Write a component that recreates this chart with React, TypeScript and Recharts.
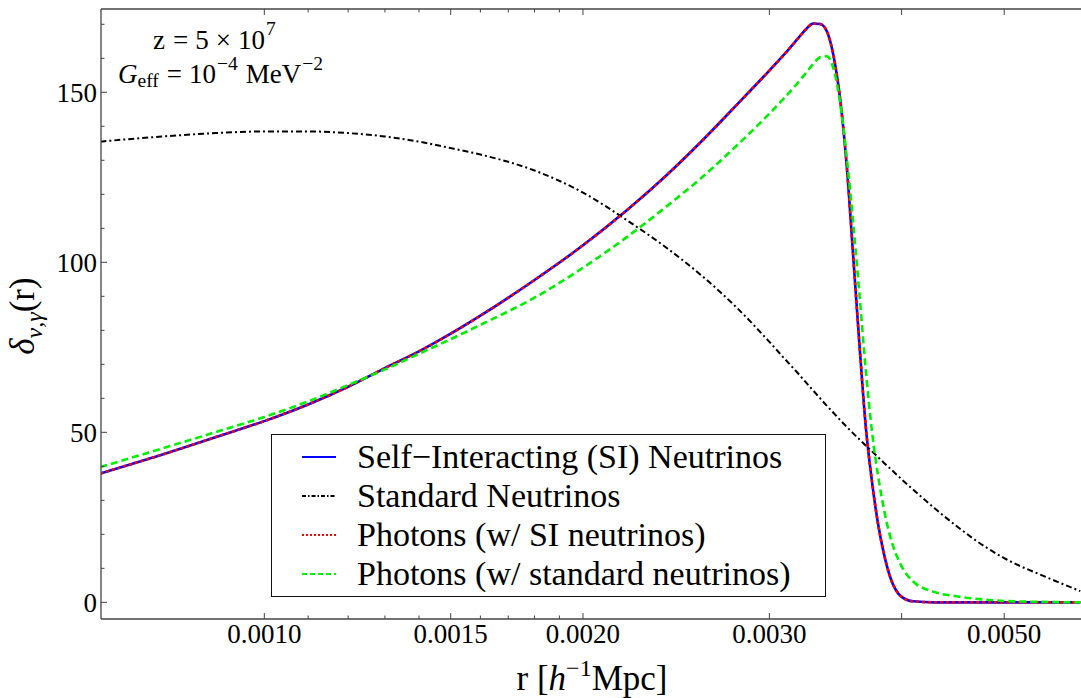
import React from "react";
import { LineChart, Line, XAxis, YAxis, Legend } from "recharts";

const FONT = "Liberation Serif, Tinos, Times New Roman, DejaVu Serif, Noto Serif, serif";

// r [h^-1 Mpc] sample points (log x axis)
const rValues = [
  0.0007, 0.0008, 0.0009, 0.001, 0.0011, 0.0012, 0.0013, 0.0014, 0.0015, 0.0016, 0.0018, 0.002,
  0.0022, 0.0024, 0.0026, 0.0028, 0.003, 0.0031, 0.0032, 0.00325, 0.0033, 0.00335, 0.0034, 0.00345,
  0.0035, 0.00355, 0.0036, 0.00365, 0.0037, 0.00375, 0.0038, 0.00385, 0.0039, 0.004, 0.0041, 0.0043,
  0.0045, 0.0048, 0.005, 0.0055, 0.0059,
];

const siNeutrinos = [
  37.9, 43.4, 48.6, 53.3, 58.2, 63.4, 68.9, 73.8, 79.0, 84.3, 94.8, 105.0,
  115.3, 125.7, 136.2, 146.6, 156.4, 161.2, 166.2, 168.6, 170.2, 170.1, 167.9, 160.6,
  147.8, 128.3, 101.8, 75.5, 51.6, 35.6, 23.1, 14.1, 7.6, 1.6, 0.3, 0.0,
  0.0, 0.0, 0.0, 0.0, 0.0,
];

const standardNeutrinos = [
  135.5, 137.0, 138.0, 138.5, 138.5, 138.0, 137.0, 135.5, 133.6, 131.7, 127.0, 120.5,
  112.4, 104.2, 95.6, 86.4, 76.6, 71.7, 67.0, 64.6, 62.3, 60.0, 57.8, 55.7,
  53.6, 51.6, 49.7, 47.9, 46.1, 44.4, 42.7, 41.0, 39.4, 36.2, 33.2, 27.6,
  22.6, 16.3, 13.0, 7.2, 3.3,
];

const photonsSI = [
  37.9, 43.4, 48.6, 53.3, 58.2, 63.4, 68.9, 73.8, 79.0, 84.3, 94.8, 105.0,
  115.3, 125.7, 136.2, 146.6, 156.4, 161.2, 166.2, 168.6, 170.2, 170.1, 167.9, 160.6,
  147.8, 128.3, 101.8, 75.5, 51.6, 35.6, 23.1, 14.1, 7.6, 1.6, 0.3, 0.0,
  0.0, 0.0, 0.0, 0.0, 0.0,
];

const photonsStandard = [
  39.8, 45.2, 50.1, 54.5, 59.1, 63.9, 68.5, 73.1, 77.4, 81.6, 89.6, 98.4,
  107.4, 116.5, 125.4, 134.6, 143.7, 148.4, 153.2, 155.8, 158.3, 160.3, 160.6, 156.8,
  146.8, 130.8, 111.6, 90.3, 68.3, 50.3, 37.3, 27.2, 19.6, 10.6, 6.2, 3.0,
  1.8, 0.8, 0.4, 0.1, 0.0,
];

const xMajorTicks = [0.001, 0.0015, 0.002, 0.003, 0.005];
const xMinorTicks = [0.0011, 0.0012, 0.0013, 0.0014, 0.0016, 0.0017, 0.0018, 0.0019, 0.004];
const yMajorTicks = [0, 50, 100, 150];
const yMinorTicks = [10, 20, 30, 40, 60, 70, 80, 90, 110, 120, 130, 140, 160, 170];

const xDomain = [0.000701, 0.005909];
const yDomain = [-4.9, 174.5];

const legendLabels = [
  "Self\u2212Interacting (SI) Neutrinos",
  "Standard Neutrinos",
  "Photons (w/ SI neutrinos)",
  "Photons (w/ standard neutrinos)",
];

const SERIES = [
  { key: "si", name: legendLabels[0], color: "#0000ff", dash: undefined, legendDash: undefined, width: 2.6 },
  { key: "std", name: legendLabels[1], color: "#000000", dash: "6 3 2 3", legendDash: "4 2 1.5 2", width: 2 },
  { key: "phSI", name: legendLabels[2], color: "#ff0000", dash: "3 3", legendDash: "2 2", width: 2.6 },
  { key: "phStd", name: legendLabels[3], color: "#00f000", dash: "7 4", legendDash: "5 3", width: 2.6 },
];

const data = rValues.map((r, i) => ({
  r,
  si: siNeutrinos[i],
  std: standardNeutrinos[i],
  phSI: photonsSI[i],
  phStd: photonsStandard[i],
}));

const FRAME = "#444";

function BottomTick({ x, y, payload }: any) {
  const v = payload.value;
  const major = xMajorTicks.includes(v);
  const len = major || v === 0.004 ? 6 : 3.5;
  return (
    <g>
      <line x1={x} x2={x} y1={y} y2={y - len} stroke={FRAME} strokeWidth={1} />
      {major && (
        <text x={x} y={y + 24} textAnchor="middle" fontSize={27} fontFamily={FONT} fill="#000">
          {v.toFixed(4)}
        </text>
      )}
    </g>
  );
}

function TopTick({ x, y, payload }: any) {
  const v = payload.value;
  const major = xMajorTicks.includes(v) || v === 0.004;
  return <line x1={x} x2={x} y1={y} y2={y + (major ? 6 : 3.5)} stroke={FRAME} strokeWidth={1} />;
}

function LeftTick({ x, y, payload }: any) {
  const v = payload.value;
  const major = yMajorTicks.includes(v);
  return (
    <g>
      <line x1={x} x2={x + (major ? 6 : 3.5)} y1={y} y2={y} stroke={FRAME} strokeWidth={1} />
      {major && (
        <text x={x - 4} y={y + 9.5} textAnchor="end" fontSize={27} fontFamily={FONT} fill="#000">
          {v}
        </text>
      )}
    </g>
  );
}

function LegendBox() {
  return (
    <div
      style={{
        boxSizing: "border-box",
        width: 555,
        height: 163,
        border: "1.2px solid #111",
        background: "#fff",
        paddingTop: 2,
        fontFamily: FONT,
        fontSize: 34,
        color: "#000",
      }}
    >
      {SERIES.map((s) => (
        <div key={s.key} style={{ display: "flex", alignItems: "center", height: 39.2, whiteSpace: "nowrap" }}>
          <svg width={34} height={6} style={{ marginLeft: 30, marginRight: 21 }}>
            <line x1={0} x2={34} y1={3} y2={3} stroke={s.color} strokeWidth={2} strokeDasharray={s.legendDash} />
          </svg>
          <span>{s.name}</span>
        </div>
      ))}
    </div>
  );
}

export default function App() {
  return (
    <div
      style={{
        position: "fixed",
        left: 0,
        top: 0,
        width: 1081,
        height: 698,
        overflow: "hidden",
        background: "#fff",
      }}
    >
      <LineChart width={1081} height={698} data={data} margin={{ top: 8, right: 0, bottom: 78, left: 100 }}>
        <XAxis
          dataKey="r"
          type="number"
          scale="log"
          domain={xDomain}
          allowDataOverflow
          ticks={[...xMajorTicks, ...xMinorTicks]}
          interval={0}
          height={1}
          tickSize={0}
          tickMargin={0}
          tickLine={false}
          tick={<BottomTick />}
          axisLine={{ stroke: FRAME, strokeWidth: 1.3 }}
        />
        <XAxis
          xAxisId="top"
          orientation="top"
          dataKey="r"
          type="number"
          scale="log"
          domain={xDomain}
          allowDataOverflow
          ticks={[...xMajorTicks, ...xMinorTicks]}
          interval={0}
          height={1}
          tickSize={0}
          tickMargin={0}
          tickLine={false}
          tick={<TopTick />}
          axisLine={{ stroke: FRAME, strokeWidth: 1.3 }}
        />
        <YAxis
          type="number"
          domain={yDomain}
          allowDataOverflow
          ticks={[...yMajorTicks, ...yMinorTicks]}
          interval={0}
          width={1}
          tickSize={0}
          tickMargin={0}
          tickLine={false}
          tick={<LeftTick />}
          axisLine={{ stroke: FRAME, strokeWidth: 1.3 }}
        />
        <Legend
          layout="horizontal"
          verticalAlign="middle"
          align="center"
          content={() => <LegendBox />}
          wrapperStyle={{ left: 271, top: 434, width: 555, height: 163 }}
        />
        {SERIES.map((s) => (
          <Line
            key={s.key}
            type="monotone"
            dataKey={s.key}
            name={s.name}
            stroke={s.color}
            strokeWidth={s.width}
            strokeDasharray={s.dash}
            dot={false}
            activeDot={false}
            isAnimationActive={false}
          />
        ))}
      </LineChart>
      <svg
        width={1081}
        height={698}
        style={{ position: "absolute", left: 0, top: 0, pointerEvents: "none" }}
        fontFamily={FONT}
      >
        <text x={153} y={49} fontSize={27}>
          <tspan>z</tspan>
          <tspan dx={8}>=</tspan>
          <tspan dx={7}>5</tspan>
          <tspan dx={7}>×</tspan>
          <tspan dx={7}>10</tspan>
          <tspan dy={-14} dx={1} fontSize={19.5}>7</tspan>
        </text>
        <text x={118} y={83} fontSize={27}>
          <tspan fontStyle="italic">G</tspan>
          <tspan dy={4} fontSize={19.5}>eff</tspan>
          <tspan dy={-4} dx={8}>=</tspan>
          <tspan dx={7}>10</tspan>
          <tspan dy={-13} dx={1} fontSize={19.5}>−4</tspan>
          <tspan dy={13} dx={8}>MeV</tspan>
          <tspan dy={-13} dx={1} fontSize={19.5}>−2</tspan>
        </text>
        <text x={592} y={690} fontSize={35} textAnchor="middle">
          r [<tspan fontStyle="italic">h</tspan>
          <tspan dy={-14} fontSize={24}>−1</tspan>
          <tspan dy={14}>Mpc]</tspan>
        </text>
        <text transform="translate(34,316) rotate(-90)" fontSize={35} textAnchor="middle">
          <tspan fontStyle="italic">δ</tspan>
          <tspan dy={8} fontSize={24} fontStyle="italic">ν,γ</tspan>
          <tspan dy={-8}>(r)</tspan>
        </text>
      </svg>
    </div>
  );
}
